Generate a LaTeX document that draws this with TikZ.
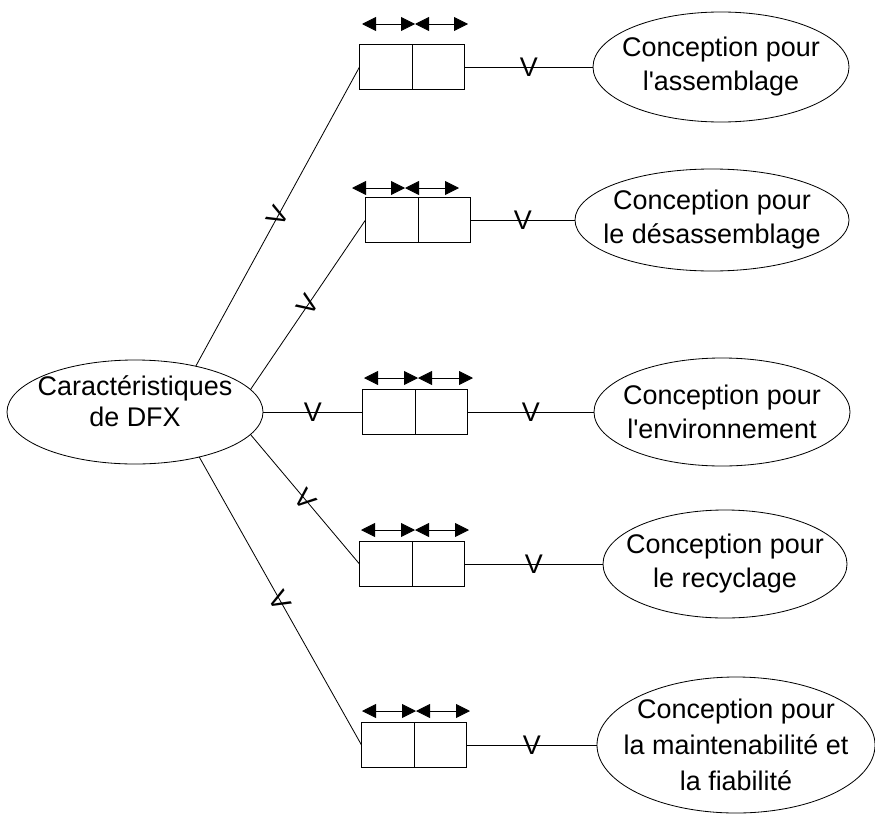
\documentclass[tikz,border=0pt]{standalone}
\usepackage{fontspec}
\setmainfont{Liberation Sans}[Ligatures=TeXOff]
\usetikzlibrary{shapes.geometric,arrows.meta}

\begin{document}
\begin{tikzpicture}[x=0.03cm,y=-0.03cm,
  line width=0.7pt,
  every node/.style={inner sep=0pt, outer sep=0pt},
  oval/.style={draw, ellipse, line width=0.7pt},
  caption/.style={align=center, font=\fontsize{23}{29}\selectfont},
  cell/.style={draw, rectangle, minimum width=3.15cm, minimum height=1.35cm, line width=0.8pt},
  vmark/.style={midway, sloped, font=\fontsize{23}{23}\selectfont},
  span/.style={{Triangle[length=4.2mm,width=4.2mm]}-{Triangle[length=4.2mm,width=4.2mm]}, line width=0.7pt},
]
\useasboundingbox (0,0) rectangle (875,813);

% central ellipse
\node[oval, minimum width=7.68cm, minimum height=3.12cm] (C) at (135,412) {};
\node[caption, font=\fontsize{23}{26}\selectfont] (Ct) at (135,401) {Caractéristiques\\de DFX};

% target ellipses
\node[oval, minimum width=7.68cm, minimum height=3.30cm] (E1) at (721,67) {};
\node[oval, minimum width=8.22cm, minimum height=3.06cm] (E2) at (712,220) {};
\node[oval, minimum width=7.68cm, minimum height=3.24cm] (E3) at (722,412) {};
\node[oval, minimum width=7.32cm, minimum height=3.24cm] (E4) at (725,564) {};
\node[oval, minimum width=8.34cm, minimum height=4.08cm] (E5) at (736,745) {};

\node[caption] (T1) at (E1) {Conception pour\\l'assemblage};
\node[caption] (T2) at (E2) {Conception pour\\le désassemblage};
\node[caption] (T3) at (E3) {Conception pour\\l'environnement};
\node[caption] (T4) at (E4) {Conception pour\\le recyclage};
\node[caption, font=\fontsize{23}{31}\selectfont] (T5) at (E5) {Conception pour\\la maintenabilité et\\la fiabilité};

% two-cell boxes
\foreach \b/\cx/\cy in {1/412/67, 2/418/220, 3/415/412, 4/412/564, 5/414/745}
  \node[cell] (B\b) at (\cx,\cy) {};
\foreach \b in {1,...,5}
  \draw[line width=0.8pt] (B\b.north) -- (B\b.south);

% double arrows above the boxes
\foreach \y/\l/\m/\r in {24/362/415/468, 188/352/405/459, 378/364/418/473, 530/361/415/469, 711/362/416/470} {
  \draw[span] (\l,\y) -- (\m,\y);
  \draw[span] (\m,\y) -- (\r,\y);
}

% connectors from the central ellipse to the boxes
\draw (C.37)  -- node[vmark] {V} (B1.west);
\draw (C.11)  -- node[vmark] {V} (B2.west);
\draw (C.east) -- node[vmark] {V} (B3.west);
\draw (C.-11.5) -- node[vmark] {V} (B4.west);
\draw (C.-35) -- node[vmark] {V} (B5.west);

% connectors from the boxes to the target ellipses
\foreach \b in {1,...,5}
  \draw (B\b.east) -- node[vmark] {V} (E\b.west);
\end{tikzpicture}
\end{document}
